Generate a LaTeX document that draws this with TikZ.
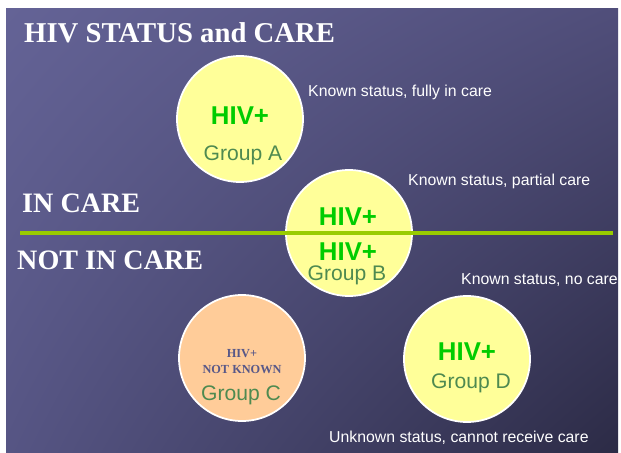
\documentclass[tikz,border=0pt]{standalone}
\usepackage{fontspec}
\setmainfont{Liberation Serif}
\setsansfont{Liberation Sans}
\usetikzlibrary{shadings}

\definecolor{slideul}{RGB}{100,99,150}
\definecolor{slideur}{RGB}{80,78,122}
\definecolor{slidell}{RGB}{86,85,132}
\definecolor{slidelr}{RGB}{44,43,70}
\definecolor{careline}{RGB}{153,204,0}
\definecolor{hivgreen}{RGB}{0,204,0}
\definecolor{grpgreen}{RGB}{78,138,80}
\definecolor{paleyellow}{RGB}{255,255,153}
\definecolor{peach}{RGB}{255,204,153}
\definecolor{unknowntext}{RGB}{88,88,136}

\begin{document}
\begin{tikzpicture}[
  x=0.03cm, y=-0.03cm,
  group/.style={circle, draw=white, line width=1.5pt, fill=paleyellow, minimum size=3.78cm, inner sep=0pt},
  hiv/.style={font=\sffamily\bfseries\fontsize{22}{22}\selectfont, text=hivgreen, anchor=base, inner sep=0pt},
  grp/.style={font=\sffamily\fontsize{18}{18}\selectfont, text=grpgreen, anchor=base, inner sep=0pt},
  note/.style={font=\sffamily\fontsize{13.5}{13.5}\selectfont, text=white, anchor=base west, inner sep=0pt},
  head/.style={font=\bfseries\fontsize{24}{24}\selectfont, text=white, anchor=base west, inner sep=0pt}
]
\useasboundingbox (0,0) rectangle (621,453);
\fill[white] (0,0) rectangle (621,453);
\shade[upper left=slideul, upper right=slideur, lower left=slidell, lower right=slidelr]
  (6,9) rectangle (618,452);

% headings
\node[head, font=\bfseries\fontsize{24.5}{24.5}\selectfont] (title) at (24,43) {HIV STATUS and CARE};
\node[head] (incare) at (22,212) {IN CARE};
\node[head] (notincare) at (17,269) {NOT IN CARE};

% the four groups
\node[group] (grpA) at (240,119) {};
\node[group] (grpB) at (349,233) {};
\node[group, fill=peach] (grpC) at (242,358) {};
\node[group] (grpD) at (467,359) {};

% dividing line between care and no care
\coordinate (divL) at (20,233);
\coordinate (divR) at (613,233);
\draw[careline, line width=3.4pt] (divL) -- (divR);

\node[hiv] (hivA) at (240,125) {HIV+};
\node[grp] (nameA) at (243,160) {Group A};

\node[hiv] (hivB) at (348,225) {HIV+};
\node[hiv] (hivBb) at (348,260) {HIV+};
\node[grp] (nameB) at (347,280) {Group B};

\node[font=\bfseries\fontsize{10.5}{10.5}\selectfont, text=unknowntext, anchor=base, inner sep=0pt] (hivC) at (242,357) {HIV+};
\node[font=\bfseries\fontsize{10.5}{10.5}\selectfont, text=unknowntext, anchor=base, inner sep=0pt] (unkC) at (242,373) {NOT KNOWN};
\node[grp] (nameC) at (241,400) {Group C};

\node[hiv] (hivD) at (467,360) {HIV+};
\node[grp] (nameD) at (471,388) {Group D};

% status notes
\node[note] (noteA) at (308,97) {Known status, fully in care};
\node[note] (noteB) at (408,185) {Known status, partial care};
\node[note] (noteD) at (461,284) {Known status, no care};
\node[note] (noteC) at (329,442) {Unknown status, cannot receive care};
\end{tikzpicture}
\end{document}
